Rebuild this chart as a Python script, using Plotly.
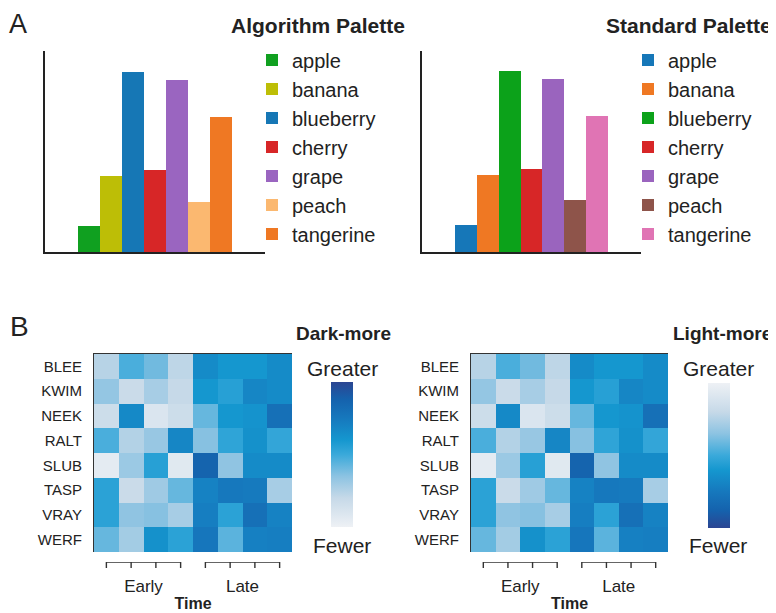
import plotly.graph_objects as go

# The page body adds an 8px margin, so the figure is sized to the window minus it
OFF = 8
W, H = 776 - OFF, 613 - OFF


def px(x):
    return (x - OFF) / W


def py(y):
    return 1 - (y - OFF) / H


# ---------------- data ----------------
fruits = ["apple", "banana", "blueberry", "cherry", "grape", "peach", "tangerine"]
algo_values = [26, 76, 180, 82, 172, 50, 135]
std_values = [27, 77, 181, 83, 173, 52, 136]
algo_colors = ["#10a020", "#bdbe06", "#1677b5", "#d72627", "#9a65c0", "#fbb870", "#ef7823"]
std_colors = ["#1677b8", "#ef7823", "#0ca21a", "#d72627", "#9a64be", "#8e544a", "#e074b4"]

genes = ["BLEE", "KWIM", "NEEK", "RALT", "SLUB", "TASP", "VRAY", "WERF"]
time_points = ["E1", "E2", "E3", "E4", "L1", "L2", "L3", "L4"]
time_groups = ["Early", "Early", "Early", "Early", "Late", "Late", "Late", "Late"]

counts = [
    [0.24, 0.47, 0.40, 0.22, 0.66, 0.60, 0.60, 0.66],
    [0.33, 0.18, 0.28, 0.20, 0.60, 0.55, 0.68, 0.66],
    [0.17, 0.67, 0.10, 0.17, 0.42, 0.60, 0.62, 0.80],
    [0.47, 0.25, 0.32, 0.68, 0.36, 0.53, 0.63, 0.52],
    [0.05, 0.31, 0.55, 0.07, 0.87, 0.34, 0.66, 0.66],
    [0.54, 0.18, 0.30, 0.42, 0.70, 0.75, 0.74, 0.28],
    [0.54, 0.34, 0.36, 0.28, 0.72, 0.54, 0.80, 0.70],
    [0.42, 0.29, 0.63, 0.54, 0.76, 0.44, 0.71, 0.72],
]
# "Light-more" encoding of the same picture: lighter = greater
counts_light = [[1 - v for v in row] for row in counts]

blue_scale = [
    [0.0, "#eef1f5"],
    [0.2, "#c6d9e8"],
    [0.35, "#8cc3e2"],
    [0.5, "#3aa9da"],
    [0.6, "#1597cf"],
    [0.75, "#1678bd"],
    [0.88, "#1562ad"],
    [1.0, "#2b4592"],
]

FONT = "Liberation Sans, Arial, Helvetica, sans-serif"
TXT = "#222222"

fig = go.Figure()

# ---------------- panel A bars ----------------
for i, f in enumerate(fruits):
    fig.add_trace(go.Bar(x=[f], y=[algo_values[i]], name=f, width=1,
                         marker=dict(color=algo_colors[i], line=dict(width=0)),
                         xaxis="x", yaxis="y", legend="legend", hoverinfo="x+y"))
for i, f in enumerate(fruits):
    fig.add_trace(go.Bar(x=[f], y=[std_values[i]], name=f, width=1,
                         marker=dict(color=std_colors[i], line=dict(width=0)),
                         xaxis="x2", yaxis="y2", legend="legend2", hoverinfo="x+y"))

# ---------------- panel B heatmaps ----------------
cb_common = dict(xanchor="left", xpad=0, yanchor="middle", ypad=0,
                 len=145, lenmode="pixels", thickness=22, thicknessmode="pixels",
                 outlinewidth=0, showticklabels=False, ticks="")

fig.add_trace(go.Heatmap(z=counts, x=time_points, y=genes, colorscale=blue_scale,
                         zmin=0, zmax=1, xaxis="x3", yaxis="y3",
                         colorbar=dict(x=px(331), y=py(454.5), **cb_common)))
fig.add_trace(go.Heatmap(z=counts_light, x=time_points, y=genes, colorscale=blue_scale,
                         reversescale=True, zmin=0, zmax=1, xaxis="x4", yaxis="y4",
                         colorbar=dict(x=px(708), y=py(455), **cb_common)))

# ---------------- bracket ticks (Early / Late) ----------------
group_names = []
for g in time_groups:
    if g not in group_names:
        group_names.append(g)
group_centers = []
for xa, ya in [("x5", "y5"), ("x6", "y6")]:
    for g in group_names:
        idx = [i for i, t in enumerate(time_groups) if t == g]
        xs = [idx[0], idx[0]]
        ys = [0, 1]
        for j in idx[1:]:
            xs += [j, j, j]
            ys += [1, 0, 1]
        fig.add_trace(go.Scatter(x=xs, y=ys, mode="lines", showlegend=False,
                                 line=dict(color="#333333", width=1.4),
                                 cliponaxis=False, hoverinfo="skip",
                                 xaxis=xa, yaxis=ya))
for g in group_names:
    idx = [i for i, t in enumerate(time_groups) if t == g]
    group_centers.append(sum(idx) / len(idx))

# ---------------- layout ----------------
hidden = dict(showgrid=False, zeroline=False, showticklabels=False, ticks="")
bar_x = dict(showline=True, linecolor="#222222", linewidth=2, range=[-2, 8],
             type="category", **hidden)
bar_y = dict(showline=True, linecolor="#222222", linewidth=2, range=[0, 201], **hidden)

hm_x = dict(type="category", range=[-0.5, 7.5], side="top", showline=True,
            linecolor="#333333", linewidth=1, **hidden)
hm_y = dict(autorange="reversed", showline=True, linecolor="#333333", linewidth=1,
            showgrid=False, zeroline=False, ticks="", ticklabelstandoff=8,
            tickfont=dict(size=15, color=TXT))

br_x = dict(range=[-0.5, 7.5], showgrid=False, zeroline=False, showline=False, ticks="",
            tickvals=group_centers, ticktext=group_names, ticklabelstandoff=6,
            tickfont=dict(size=17, color=TXT),
            title=dict(text="<b>Time</b>", font=dict(size=16, color=TXT), standoff=2))
br_y = dict(range=[0, 1], **hidden, showline=False)

fig.update_layout(
    width=W, height=H,
    margin=dict(l=0, r=0, t=0, b=0, autoexpand=False),
    paper_bgcolor="white", plot_bgcolor="white",
    font=dict(family=FONT, color=TXT),
    barmode="overlay", bargap=0,
    showlegend=True,
    xaxis=dict(domain=[px(45), px(265)], anchor="y", **bar_x),
    yaxis=dict(domain=[py(252), py(51)], anchor="x", **bar_y),
    xaxis2=dict(domain=[px(422), px(641)], anchor="y2", **bar_x),
    yaxis2=dict(domain=[py(252), py(51)], anchor="x2", **bar_y),
    xaxis3=dict(domain=[px(94), px(292)], anchor="y3", **hm_x),
    yaxis3=dict(domain=[py(552), py(354)], anchor="x3", **hm_y),
    xaxis4=dict(domain=[px(471), px(668)], anchor="y4", **hm_x),
    yaxis4=dict(domain=[py(552), py(354)], anchor="x4", **hm_y),
    xaxis5=dict(domain=[px(94), px(292)], anchor="y5", **br_x),
    yaxis5=dict(domain=[py(568), py(562)], anchor="x5", **br_y),
    xaxis6=dict(domain=[px(471), px(668)], anchor="y6", **br_x),
    yaxis6=dict(domain=[py(568), py(562)], anchor="x6", **br_y),
    legend=dict(x=px(252), y=py(40.5), xanchor="left", yanchor="top",
                font=dict(size=20, color=TXT), bgcolor="rgba(0,0,0,0)",
                traceorder="normal", borderwidth=0),
    legend2=dict(x=px(628), y=py(40.5), xanchor="left", yanchor="top",
                 font=dict(size=20, color=TXT), bgcolor="rgba(0,0,0,0)",
                 traceorder="normal", borderwidth=0),
)

annots = [
    dict(text="A", x=px(8), y=py(8), xanchor="left", yanchor="top", borderpad=0,
         font=dict(size=27, color=TXT)),
    dict(text="B", x=px(8), y=py(326), xanchor="left", yanchor="middle",
         font=dict(size=28, color=TXT)),
    dict(text="<b>Algorithm Palette</b>", x=px(407), y=py(26), xanchor="right",
         yanchor="middle", font=dict(size=21, color=TXT)),
    dict(text="<b>Standard Palette</b>", x=px(774), y=py(26), xanchor="right",
         yanchor="middle", font=dict(size=21, color=TXT)),
    dict(text="<b>Dark-more</b>", x=px(393), y=py(333), xanchor="right",
         yanchor="middle", font=dict(size=19, color=TXT)),
    dict(text="<b>Light-more</b>", x=px(774), y=py(333), xanchor="right",
         yanchor="middle", font=dict(size=19, color=TXT)),
    dict(text="Greater", x=px(342), y=py(368), xanchor="center", yanchor="middle",
         font=dict(size=21, color=TXT)),
    dict(text="Fewer", x=px(342), y=py(545), xanchor="center", yanchor="middle",
         font=dict(size=21, color=TXT)),
    dict(text="Greater", x=px(718), y=py(368), xanchor="center", yanchor="middle",
         font=dict(size=21, color=TXT)),
    dict(text="Fewer", x=px(718), y=py(545), xanchor="center", yanchor="middle",
         font=dict(size=21, color=TXT)),
]
for a in annots:
    a.update(xref="paper", yref="paper", showarrow=False)
fig.update_layout(annotations=annots)

fig.write_html("out.html")
